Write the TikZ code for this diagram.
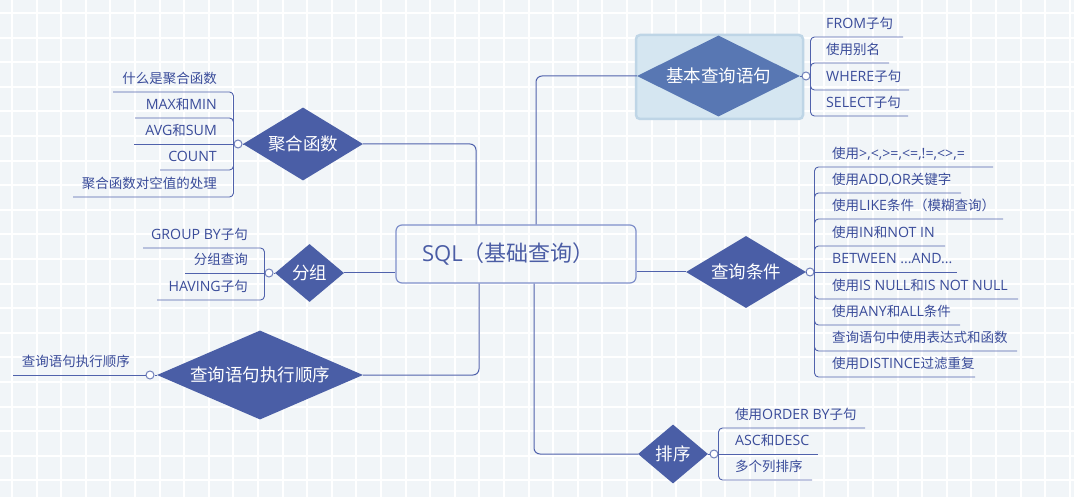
\documentclass[tikz,border=0pt]{standalone}
\usepackage{fontspec}
\setmainfont{Noto Sans CJK SC}
\newfontfamily\lat[Scale=1.05]{Open Sans}
\usetikzlibrary{shapes.geometric,calc}
\definecolor{bgc}{HTML}{F1F5F8}
\definecolor{dia}{HTML}{4A5EA6}
\definecolor{diasel}{HTML}{5877B3}
\definecolor{selbg}{HTML}{D5E6F1}
\definecolor{selbd}{HTML}{BED5E6}
\definecolor{txt}{HTML}{3A4C9A}
\definecolor{ln}{HTML}{5062AC}
\definecolor{knobc}{HTML}{7080BA}
\definecolor{rootbd}{HTML}{7F8FCA}
\definecolor{roottxt}{HTML}{4B5DA5}
\begin{document}
\begin{tikzpicture}[x=1pt,y=-1pt,
  font=\fontsize{13.5}{16}\selectfont,
  dmd/.style={diamond, fill=dia, text=white, inner sep=0pt, font=\fontsize{17.5}{20}\selectfont},
  knob/.style={circle, draw=knobc, fill=white, line width=1pt, minimum size=8pt, inner sep=0pt},
  leaf/.style={text=txt, inner xsep=0pt, inner ysep=0pt, text height=10pt, text depth=8.5pt},
  trunk/.style={draw=ln, line width=1pt, rounded corners=6pt},
  twig/.style={draw=ln, line width=0.9pt, rounded corners=4pt},
  gridl/.style={draw=white, line width=2pt}
]
\useasboundingbox (0,0) rectangle (1074,497);
% background tiles
\fill[bgc] (0,0) rectangle (1074,497);
\foreach \i in {0,...,43} { \draw[gridl] ({12+24.6*\i},0) -- ({12+24.6*\i},497); }
\foreach \j in {0,...,19} { \draw[gridl] (0,{13+24.6*\j}) -- (1074,{13+24.6*\j}); }

% root
\node[draw=rootbd, line width=1.2pt, rounded corners=6pt, text=roottxt,
      font=\fontsize{22}{26}\selectfont, text width=188pt, align=left,
      inner xsep=26pt, minimum height=58pt] (sql) at (516,254) {{\lat\fontsize{21}{26}\selectfont SQL}（基础查询）};

% selected topic background
\node[draw=selbd, fill=selbg, line width=2.5pt, rounded corners=4pt,
      minimum width=167pt, minimum height=84pt] (sel) at (719.5,77) {};

% main topics
\node[dmd, fill=diasel, aspect=2.01, minimum width=163pt, minimum height=81pt] (d1) at (718.5,76) {基本查询语句};
\node[dmd, aspect=1.64, minimum width=120pt, minimum height=73pt] (d2) at (303,144) {聚合函数};
\node[dmd, aspect=1.19, minimum width=69pt, minimum height=58pt] (d3) at (309.5,273) {分组};
\node[dmd, aspect=2.31, minimum width=206pt, minimum height=89pt] (d4) at (260,375) {查询语句执行顺序};
\node[dmd, aspect=1.67, minimum width=120pt, minimum height=72pt] (d5) at (746,272) {查询条件};
\node[dmd, aspect=1.19, minimum width=70pt, minimum height=59pt] (d6) at (673,454) {排序};

% trunk connectors
\draw[trunk] ([xshift=20pt]sql.north) |- (d1.west);
\draw[trunk] ([xshift=-40pt]sql.north) |- (d2.east);
\draw[trunk] (sql.west |- d3.east) -- (d3.east);
\draw[trunk] ([xshift=-37pt]sql.south) |- (d4.east);
\draw[trunk] (sql.east |- d5.west) -- (d5.west);
\draw[trunk] ([xshift=18pt]sql.south) |- (d6.west);

% knobs
\node[knob] (k1) at (806,76) {};
\node[knob] (k2) at (238,144) {};
\node[knob] (k3) at (269,273) {};
\node[knob] (k4) at (150,375) {};
\node[knob] (k5) at (810,272) {};
\node[knob] (k6) at (714,454) {};
\draw[twig] (d1.east) -- (k1.west);
\draw[twig] (d2.west) -- (k2.east);
\draw[twig] (d3.west) -- (k3.east);
\draw[twig] (d4.west) -- (k4.east);
\draw[twig] (d5.east) -- (k5.west);
\draw[twig] (d6.east) -- (k6.west);

% 基本查询语句
\node[leaf, anchor=south west] (b1) at (826,37) {{\lat FROM}子句};
\node[leaf, anchor=south west] (b2) at (826,63) {使用别名};
\node[leaf, anchor=south west] (b3) at (826,90) {{\lat WHERE}子句};
\node[leaf, anchor=south west] (b4) at (826,116) {{\lat SELECT}子句};
\draw[twig] (k1.east) |- ($(b1.south west)+(77,0)$);
\draw[twig] (k1.east) |- ($(b2.south west)+(63,0)$);
\draw[twig] (k1.east) |- ($(b3.south west)+(83,0)$);
\draw[twig] (k1.east) |- ($(b4.south west)+(82,0)$);

% 聚合函数
\node[leaf, anchor=south east] (a1) at (217,92) {什么是聚合函数};
\node[leaf, anchor=south east] (a2) at (217,118) {{\lat MAX}和{\lat MIN}};
\node[leaf, anchor=south east] (a3) at (217,144) {{\lat AVG}和{\lat SUM}};
\node[leaf, anchor=south east] (a4) at (217,170) {{\lat COUNT}};
\node[leaf, anchor=south east] (a5) at (217,197) {聚合函数对空值的处理};
\draw[twig] (k2.west) |- ($(a1.south east)-(104,0)$);
\draw[twig] (k2.west) |- ($(a2.south east)-(82,0)$);
\draw[twig] (k2.west) -- ($(a3.south east)-(83,0)$);
\draw[twig] (k2.west) |- ($(a4.south east)-(57,0)$);
\draw[twig] (k2.west) |- ($(a5.south east)-(144,0)$);

% 分组
\node[leaf, anchor=south east] (g1) at (248,248) {{\lat GROUP BY}子句};
\node[leaf, anchor=south east] (g2) at (248,273) {分组查询};
\node[leaf, anchor=south east] (g3) at (248,300) {{\lat HAVING}子句};
\draw[twig] (k3.west) |- ($(g1.south east)-(105,0)$);
\draw[twig] (k3.west) -- ($(g2.south east)-(63,0)$);
\draw[twig] (k3.west) |- ($(g3.south east)-(91,0)$);

% 查询语句执行顺序
\node[leaf, anchor=south east] (e1) at (130,375) {查询语句执行顺序};
\draw[twig] (k4.west) -- ($(e1.south east)-(117,0)$);

% 查询条件
\node[leaf, anchor=south west] (c1) at (832,167) {使用{\lat >,<,>=,<=,!=,<>,=}};
\node[leaf, anchor=south west] (c2) at (832,193) {使用{\lat ADD,OR}关键字};
\node[leaf, anchor=south west] (c3) at (832,219) {使用{\lat LIKE}条件（模糊查询）};
\node[leaf, anchor=south west] (c4) at (832,246) {使用{\lat IN}和{\lat NOT IN}};
\node[leaf, anchor=south west] (c5) at (832,272) {{\lat BETWEEN ...AND...}};
\node[leaf, anchor=south west] (c6) at (832,299) {使用{\lat IS NULL}和{\lat IS NOT NULL}};
\node[leaf, anchor=south west] (c7) at (832,325) {使用{\lat ANY}和{\lat ALL}条件};
\node[leaf, anchor=south west] (c8) at (832,351) {查询语句中使用表达式和函数};
\node[leaf, anchor=south west] (c9) at (832,377) {使用{\lat DISTINCE}过滤重复};
\draw[twig] (k5.east) |- ($(c1.south west)+(161,0)$);
\draw[twig] (k5.east) |- ($(c2.south west)+(129,0)$);
\draw[twig] (k5.east) |- ($(c3.south west)+(171,0)$);
\draw[twig] (k5.east) |- ($(c4.south west)+(113,0)$);
\draw[twig] (k5.east) -- ($(c5.south west)+(125,0)$);
\draw[twig] (k5.east) |- ($(c6.south west)+(186,0)$);
\draw[twig] (k5.east) |- ($(c7.south west)+(128,0)$);
\draw[twig] (k5.east) |- ($(c8.south west)+(185,0)$);
\draw[twig] (k5.east) |- ($(c9.south west)+(143,0)$);

% 排序
\node[leaf, anchor=south west] (s1) at (735,428) {使用{\lat ORDER BY}子句};
\node[leaf, anchor=south west] (s2) at (735,454) {{\lat ASC}和{\lat DESC}};
\node[leaf, anchor=south west] (s3) at (735,480) {多个列排序};
\draw[twig] (k6.east) |- ($(s1.south west)+(130,0)$);
\draw[twig] (k6.east) -- ($(s2.south west)+(83,0)$);
\draw[twig] (k6.east) |- ($(s3.south west)+(77,0)$);
\end{tikzpicture}
\end{document}
